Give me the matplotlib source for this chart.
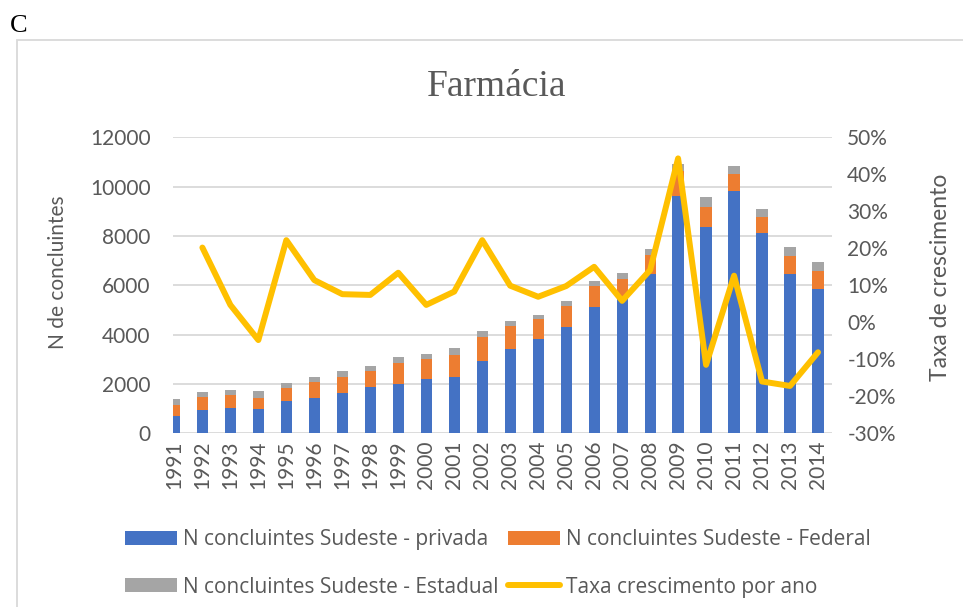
import numpy as np
import matplotlib
matplotlib.use('Agg')
import matplotlib.pyplot as plt
from matplotlib.patches import Rectangle
from matplotlib.ticker import FuncFormatter

anos = [str(a) for a in range(1991, 2015)]

# valores (aproximados)
privada = [700, 960, 1010, 1000, 1300, 1440, 1620, 1860, 1990, 2190, 2270, 2920,
           3400, 3810, 4320, 5110, 5450, 6450, 9630, 8380, 9820, 8110, 6470, 5840]
federal = [435, 500, 555, 430, 525, 640, 670, 650, 875, 810, 915, 970,
           955, 810, 830, 860, 790, 770, 1020, 780, 690, 650, 730, 750]
estadual = [245, 215, 200, 295, 225, 200, 230, 205, 220, 215, 270, 270,
            205, 190, 215, 215, 270, 255, 250, 430, 325, 335, 340, 365]
taxa = [np.nan, 20.2, 4.7, -4.8, 22.2, 11.4, 7.6, 7.4, 13.4, 4.7, 8.3, 22.2,
        9.9, 6.9, 9.8, 15.0, 5.8, 14.1, 44.3, -11.5, 12.6, -16.0, -17.2, -8.1]

azul = '#4472C4'
laranja = '#ED7D31'
cinza = '#A5A5A5'
amarelo = '#FFC000'
texto = '#595959'
grade = '#D9D9D9'

plt.rcParams['font.family'] = ['Lato', 'DejaVu Sans']

fig = plt.figure(figsize=(9.63, 6.07), dpi=100)
# moldura do grafico
fig.patches.append(Rectangle((17 / 963, -0.1), 1.0, 1 - 40 / 607 + 0.1,
                             transform=fig.transFigure, fill=False,
                             edgecolor=grade, lw=1.3))
fig.text(10 / 963, 1 - 25.5 / 607, 'C', family='Liberation Serif', fontsize=19,
         va='center', ha='left', color='black')

ax = fig.add_axes([173 / 963, 1 - 433.3 / 607, 659 / 963, 296 / 607])
x = np.arange(len(anos))
w = 0.4
b1 = ax.bar(x, privada, w, color=azul, label='N concluintes Sudeste - privada', zorder=2)
b2 = ax.bar(x, federal, w, bottom=privada, color=laranja,
            label='N concluintes Sudeste - Federal', zorder=2)
base = np.array(privada) + np.array(federal)
b3 = ax.bar(x, estadual, w, bottom=base, color=cinza,
            label='N concluintes Sudeste - Estadual', zorder=2)

ax.set_xlim(-0.05, 23.5)
ax.set_ylim(0, 12000)
ax.set_yticks(range(0, 12001, 2000))
ax.set_xticks(x)
ax.set_xticklabels(anos, rotation=90)
ax.grid(axis='y', color=grade, lw=1.3, zorder=0)
for s in ax.spines.values():
    s.set_visible(False)
ax.tick_params(axis='y', length=0, pad=16, labelsize=15, labelcolor=texto)
ax.tick_params(axis='x', length=0, pad=5, labelsize=15, labelcolor=texto)
ax.set_ylabel('N de concluintes', fontsize=15, color=texto)
ax.yaxis.set_label_coords(-0.159, 0.545)
ax.set_title('Farmácia', family='Liberation Serif', fontsize=27, color=texto,
             pad=30, x=0.4917)

ax2 = ax.twinx()
l1, = ax2.plot(x, np.array(taxa) / 100, color=amarelo, lw=4.3,
               solid_joinstyle='round', solid_capstyle='round',
               label='Taxa crescimento por ano', zorder=3)
ax2.set_ylim(-0.3, 0.5)
ax2.set_yticks(np.arange(-0.3, 0.51, 0.1))
ax2.yaxis.set_major_formatter(FuncFormatter(lambda v, p: '{:.0f}%'.format(v * 100)))
for s in ax2.spines.values():
    s.set_visible(False)
ax2.tick_params(axis='y', length=0, pad=11, labelsize=15, labelcolor=texto)
ax2.set_ylabel('Taxa de crescimento', fontsize=16.5, color=texto, rotation=90)
ax2.yaxis.set_label_coords(1.149, 0.526)

handles = [b1, b3, b2, l1]
labels = [h.get_label() for h in handles]
leg = fig.legend(handles, labels, ncol=2, loc='center left',
                 bbox_to_anchor=(125 / 963, 1 - 563.5 / 607), frameon=False,
                 prop={'family': 'Open Sans', 'size': 15},
                 borderpad=0, borderaxespad=0,
                 handlelength=2.5, handleheight=0.67,
                 handletextpad=0.3, columnspacing=0.43, labelspacing=1.26)
for t in leg.get_texts():
    t.set_color(texto)

fig.savefig('out.png', dpi=100)
